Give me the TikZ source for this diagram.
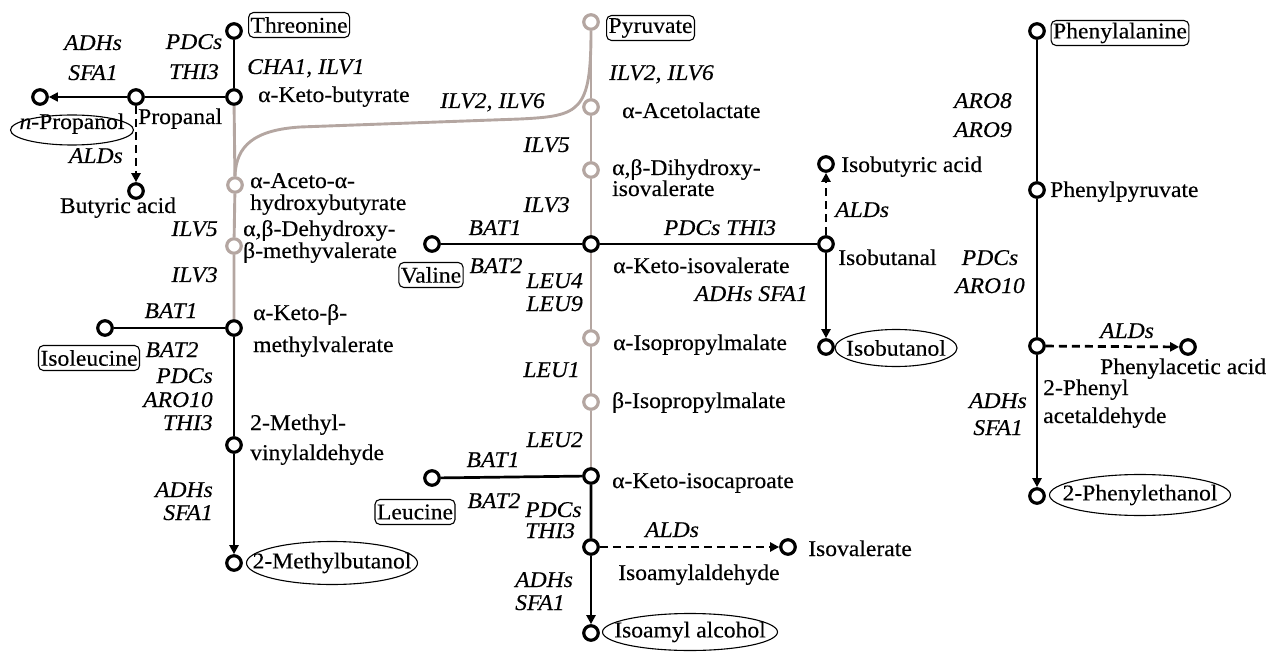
\documentclass[tikz,border=0pt]{standalone}
\usepackage{fontspec}
\setmainfont{Liberation Serif}[FakeStretch=1.05,FakeBold=0.3]
\usetikzlibrary{arrows.meta,shapes.geometric}
\definecolor{gline}{RGB}{180,166,161}
\begin{document}
\fontsize{22.5}{24}\selectfont
\begin{tikzpicture}[x=1pt,y=-1pt,
  met/.style={circle,draw=black,fill=white,line width=3.2pt,minimum size=14.5pt,inner sep=0pt},
  gmet/.style={met,draw=gline},
  bl/.style={line width=2.7pt,draw=black},
  thin/.style={line width=1.7pt,draw=black},
  gl/.style={line width=2.9pt,draw=gline},
  tip/.style={-{Triangle[length=9pt,width=9pt]}},
  dsh/.style={dash pattern=on 8pt off 5pt},
  enz/.style={inner sep=0pt,font=\itshape},
  txt/.style={inner sep=0pt},
  bx/.style={draw,rounded corners=5pt,line width=1.1pt,inner xsep=2pt,inner ysep=0pt,minimum height=25pt},
  ell/.style={inner sep=0pt},
]
\useasboundingbox (0,0) rectangle (1271,652);
% ---------- column 1 ----------
\node[met] (thr) at (234,31) {};
\node[bx,anchor=west] (thrl) at (248,25) {Threonine};
\node[met] (akb) at (234,97) {};
\node[met] (prl) at (136,97) {};
\node[met] (npr) at (40,97) {};
\node[met] (but) at (136,191) {};
\node[gmet] (aah) at (235,185) {};
\node[gmet] (dhm) at (234,246) {};
\node[met] (kmv) at (234,328) {};
\node[met] (ile) at (105,328) {};
\node[met] (mva) at (234,445) {};
\node[met] (mbu) at (234,563) {};

\node[txt,anchor=base west] (akbt) at (258,102) {α-Keto-butyrate};
\node[enz,anchor=base west] (e1) at (247,74) {CHA1, ILV1};
\node[enz,anchor=base] (e2) at (194,49) {PDCs};
\node[enz,anchor=base] (e3) at (194,79) {THI3};
\node[enz,anchor=base] (e4) at (93,50) {ADHs};
\node[enz,anchor=base] (e5) at (93,80) {SFA1};
\node[txt,anchor=base west] (prlt) at (138,124) {Propanal};
\node[ell,anchor=base] (nprt) at (72,129) {\textit{n}-Propanol};
\draw[line width=1.1pt] (72,130) ellipse [x radius=61.5, y radius=15];
\node[enz,anchor=base east] (e6) at (123,163) {ALDs};
\node[txt,anchor=base] (butt) at (118,213) {Butyric acid};
\node[txt,anchor=base west] (aaht1) at (250,188) {α-Aceto-α-};
\node[txt,anchor=base west] (aaht2) at (250,210) {hydroxybutyrate};
\node[enz,anchor=base east] (e7) at (218,236) {ILV5};
\node[txt,anchor=base west] (dhmt1) at (243,236) {α,β-Dehydroxy-};
\node[txt,anchor=base west] (dhmt2) at (243,258) {β-methyvalerate};
\node[enz,anchor=base east] (e8) at (218,282) {ILV3};
\node[enz,anchor=base] (e9) at (171,318) {BAT1};
\node[bx] (ilel) at (89,358) {Isoleucine};
\node[enz,anchor=base] (e10) at (172,357) {BAT2};
\node[txt,anchor=base west] (kmvt1) at (253,320) {α-Keto-β-};
\node[txt,anchor=base west] (kmvt2) at (253,352) {methylvalerate};
\node[enz,anchor=base east] (e11) at (213,383) {PDCs};
\node[enz,anchor=base east] (e12) at (213,407) {ARO10};
\node[enz,anchor=base east] (e13) at (213,430) {THI3};
\node[txt,anchor=base west] (mvat1) at (250,430) {2-Methyl-};
\node[txt,anchor=base west] (mvat2) at (250,460) {vinylaldehyde};
\node[enz,anchor=base east] (e14) at (213,497) {ADHs};
\node[enz,anchor=base east] (e15) at (213,520) {SFA1};
\node[ell] (mbut) at (332,563) {2-Methylbutanol};
\draw[line width=1.1pt] (mbut.center) ellipse [x radius=85.5, y radius=21.5];

% ---------- column 2 ----------
\node[gmet] (pyr) at (591,22) {};
\node[bx,anchor=west] (pyrl) at (606,28) {Pyruvate};
\node[gmet] (acl) at (591,107) {};
\node[gmet] (dhi) at (591,170) {};
\node[met] (kiv) at (591,244) {};
\node[met] (val) at (432,244) {};
\node[met] (iba) at (826,244) {};
\node[met] (ibacid) at (826,164) {};
\node[met] (ibol) at (826,347) {};
\node[gmet] (ipm) at (591,338) {};
\node[gmet] (bipm) at (591,402) {};
\node[met] (kic) at (591,476) {};
\node[met] (leu) at (432,478) {};
\node[met] (iaa) at (591,547) {};
\node[met] (iva) at (788,547) {};
\node[met] (ial) at (591,633) {};

\node[enz,anchor=base west] (f1) at (609,80) {ILV2, ILV6};
\node[enz,anchor=base east] (f2) at (545,108) {ILV2, ILV6};
\node[txt,anchor=base west] (aclt) at (622,118) {α-Acetolactate};
\node[enz,anchor=base east] (f3) at (570,152) {ILV5};
\node[txt,anchor=base west] (dhit1) at (612,175) {α,β-Dihydroxy-};
\node[txt,anchor=base west] (dhit2) at (612,196) {isovalerate};
\node[enz,anchor=base east] (f4) at (570,212) {ILV3};
\node[enz,anchor=base] (f5) at (495,235) {BAT1};
\node[enz,anchor=base] (f6) at (720,235) {PDCs THI3};
\node[bx] (vall) at (431,275) {Valine};
\node[enz,anchor=base] (f7) at (496,273) {BAT2};
\node[txt,anchor=base west] (kivt) at (613,273) {α-Keto-isovalerate};
\node[enz,anchor=base east] (f8) at (583,288) {LEU4};
\node[enz,anchor=base east] (f9) at (583,311) {LEU9};
\node[enz,anchor=base east] (f10) at (808,301) {ADHs SFA1};
\node[txt,anchor=base west] (ibacidt) at (841,172) {Isobutyric acid};
\node[enz,anchor=base west] (f11) at (835,217) {ALDs};
\node[txt,anchor=base west] (ibat) at (838,265) {Isobutanal};
\node[ell] (ibolt) at (896,348) {Isobutanol};
\draw[line width=1.1pt] (ibolt.center) ellipse [x radius=61, y radius=18.5];
\node[txt,anchor=base west] (ipmt) at (613,350) {α-Isopropylmalate};
\node[enz,anchor=base east] (f12) at (580,377) {LEU1};
\node[txt,anchor=base west] (bipmt) at (612,408) {β-Isopropylmalate};
\node[enz,anchor=base east] (f13) at (583,447) {LEU2};
\node[enz,anchor=base] (f14) at (493,467) {BAT1};
\node[txt,anchor=base west] (kict) at (612,488) {α-Keto-isocaproate};
\node[bx] (leul) at (415,512) {Leucine};
\node[enz,anchor=base] (f15) at (494,508) {BAT2};
\node[enz,anchor=base west] (f16) at (525,517) {PDCs};
\node[enz,anchor=base west] (f17) at (525,538) {THI3};
\node[enz,anchor=base] (f18) at (672,537) {ALDs};
\node[txt,anchor=base west] (ivat) at (808,556) {Isovalerate};
\node[txt,anchor=base west] (iaat) at (618,580) {Isoamylaldehyde};
\node[enz,anchor=base west] (f19) at (515,587) {ADHs};
\node[enz,anchor=base west] (f20) at (515,610) {SFA1};
\node[ell] (ialt) at (690,632) {Isoamyl alcohol};
\draw[line width=1.1pt] (ialt.center) ellipse [x radius=87.5, y radius=18.5];

% ---------- column 3 ----------
\node[met] (phe) at (1037,31) {};
\node[bx] (phel) at (1120,33) {Phenylalanine};
\node[met] (ppy) at (1037,190) {};
\node[met] (pac) at (1037,346) {};
\node[met] (paa) at (1188,347) {};
\node[met] (pet) at (1037,496) {};

\node[enz,anchor=base east] (g1) at (1012,108) {ARO8};
\node[enz,anchor=base east] (g2) at (1012,137) {ARO9};
\node[txt,anchor=base west] (ppyt) at (1050,197) {Phenylpyruvate};
\node[enz,anchor=base] (g3) at (990,265) {PDCs};
\node[enz,anchor=base] (g4) at (990,293) {ARO10};
\node[enz,anchor=base] (g5) at (1127,338) {ALDs};
\node[txt,anchor=base west] (paat) at (1100,374) {Phenylacetic acid};
\node[enz,anchor=base east] (g6) at (1027,408) {ADHs};
\node[enz,anchor=base east] (g7) at (1023,435) {SFA1};
\node[txt,anchor=base west] (pact1) at (1043,395) {2-Phenyl};
\node[txt,anchor=base west] (pact2) at (1043,423) {acetaldehyde};
\node[ell] (pett) at (1140,495) {2-Phenylethanol};
\draw[line width=1.1pt] (pett.center) ellipse [x radius=90.5, y radius=20.5];

% ---------- connectors ----------
\draw[bl] (thr) -- (akb);
\draw[thin] (akb) -- (prl);
\draw[thin,tip] (prl) -- (npr);
\draw[bl,dsh,tip] (prl) -- (but);
\draw[gl] (akb) -- (aah) -- (dhm) -- (kmv);
\draw[gl] (pyr.south) .. controls (591,112) and (580,116) .. (520,119) -- (300,127) .. controls (255,130) and (236,145) .. (aah.north);
\draw[bl] (ile) -- (kmv) -- (mva);
\draw[bl,tip] (mva) -- (mbu);

\draw[gl] (pyr) -- (acl) -- (dhi) -- (kiv) -- (ipm) -- (bipm) -- (kic);
\draw[bl] (val) -- (kiv) -- (iba);
\draw[bl,dsh,tip] (iba) -- (ibacid);
\draw[bl,tip] (iba) -- (ibol);
\draw[bl] (leu) -- (kic) -- (iaa);
\draw[bl,dsh,tip] (iaa) -- (iva);
\draw[bl,tip] (iaa) -- (ial);

\draw[bl] (phe) -- (ppy) -- (pac);
\draw[bl,dsh,tip] (pac) -- (paa);
\draw[bl,tip] (pac) -- (pet);
\end{tikzpicture}
\end{document}
